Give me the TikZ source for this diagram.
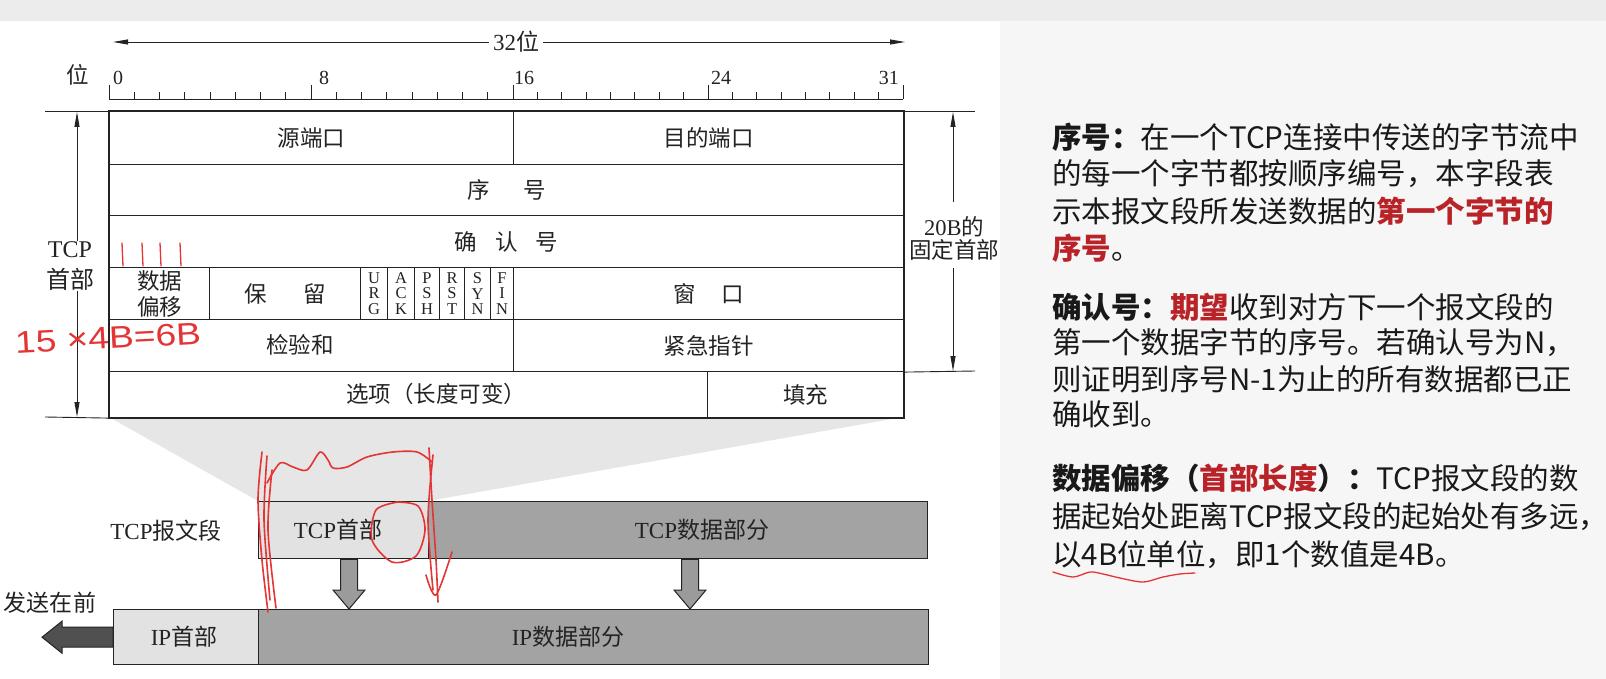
\documentclass[tikz,border=0pt]{standalone}
\usepackage{fontspec}
\setmainfont{Liberation Serif}
\newfontfamily\cjk{Noto Sans CJK SC}
\newfontfamily\handfont{Liberation Sans}
\usetikzlibrary{arrows.meta,calc}
\definecolor{ink}{RGB}{35,35,35}
\definecolor{txtc}{RGB}{25,25,25}
\definecolor{redA}{RGB}{185,35,40}
\definecolor{hand}{RGB}{228,52,52}
\definecolor{bgR}{RGB}{246,246,246}
\definecolor{bgT}{RGB}{236,236,236}
\definecolor{proj}{RGB}{230,230,230}
\definecolor{lightfill}{RGB}{226,226,226}
\definecolor{darkfill}{RGB}{163,163,163}
\definecolor{arrfill}{RGB}{155,155,155}
\definecolor{leftarr}{RGB}{80,80,80}
\newcommand\zh[1]{{\cjk #1}}
\newcommand\rb[1]{{\color{redA}\bfseries #1}}
\tikzset{
  fld/.style={draw=ink, line width=1.1pt, inner sep=0pt, anchor=north west, text=ink, font=\fontsize{22.5}{26}\selectfont},
  lbl/.style={inner sep=0pt, text=ink, font=\fontsize{22.5}{26}\selectfont},
  numlbl/.style={inner sep=0pt, text=ink, font=\fontsize{20}{22}\selectfont},
  flagbox/.style={fld, minimum height=52pt, align=center, font=\fontsize{16.5}{15.3}\selectfont},
  dim/.style={draw=ink, line width=0.9pt},
  dimarrow/.style={dim, -{Triangle[length=15pt,width=5pt]}},
  seg/.style={draw=ink, line width=1.4pt, inner sep=0pt, anchor=north west},
  blockarrow/.style={draw=ink, line width=1pt, fill=arrfill, line join=miter},
  rtxt/.style={anchor=west, inner sep=0pt, text=txtc, font=\cjk\fontsize{29.5}{36}\selectfont},
  handink/.style={draw=hand, line width=1.6pt, line cap=round, line join=round}
}
\begin{document}
\begin{tikzpicture}[x=1pt,y=-1pt]
\useasboundingbox (0,0) rectangle (1606,679);
\fill[bgR] (0,0) rectangle (1606,679);
\fill[bgT] (0,0) rectangle (1606,21);
\fill[white] (0,21) rectangle (1000,679);

% projection wedge
\fill[proj] (109,417) -- (903,417) -- (428,501) -- (258,501) -- cycle;

% 32 bit width arrow
\node[lbl, inner sep=4pt, font=\fontsize{23}{26}\selectfont] (w32) at (516,42) {32\zh{位}};
\coordinate (wl) at (113,42);
\coordinate (wr) at (905,42);
\draw[dimarrow] (w32.west) -- (wl);
\draw[dimarrow] (w32.east) -- (wr);

% ruler
\node[lbl] (wei) at (78,75) {\zh{位}};
\draw[dim] (109,99) -- (903,99);
\foreach \i in {0,...,32}{
  \pgfmathsetmacro\tx{\i<=16 ? 109+\i*25.25 : 513+(\i-16)*24.375}
  \pgfmathsetmacro\th{mod(\i,8)==0 ? 14 : 7}
  \draw[dim] (\tx,99) -- (\tx,99-\th);
}
\node[numlbl, anchor=base west] (n0) at (113,85) {0};
\node[numlbl, anchor=base west] (n8) at (319,85) {8};
\node[numlbl, anchor=base west] (n16) at (514,85) {16};
\node[numlbl, anchor=base west] (n24) at (711,85) {24};
\node[numlbl, anchor=base east] (n31) at (899,85) {31};

% header table
\node[fld, minimum width=404pt, minimum height=53pt] (src) at (109,111) {\zh{源端口}};
\node[fld, minimum width=390pt, minimum height=53pt] (dst) at (513,111) {\zh{目的端口}};
\node[fld, minimum width=794pt, minimum height=51pt] (seq) at (109,164) {\zh{序\hspace{33pt}号}};
\node[fld, minimum width=794pt, minimum height=52pt] (ack) at (109,215) {\zh{确\hspace{18pt}认\hspace{18pt}号}};
\node[fld, minimum width=100pt, minimum height=52pt, align=center] (off) at (109,267) {\zh{数据}\\\zh{偏移}};
\node[fld, minimum width=151pt, minimum height=52pt] (rsv) at (209,267) {\zh{保\hspace{37pt}留}};
\node[flagbox, minimum width=27pt] (fURG) at (360,267) {U\\R\\G};
\node[flagbox, minimum width=27pt] (fACK) at (387,267) {A\\C\\K};
\node[flagbox, minimum width=25pt] (fPSH) at (414,267) {P\\S\\H};
\node[flagbox, minimum width=25pt] (fRST) at (439,267) {R\\S\\T};
\node[flagbox, minimum width=26pt] (fSYN) at (464,267) {S\\Y\\N};
\node[flagbox, minimum width=23pt] (fFIN) at (490,267) {F\\I\\N};
\node[fld, minimum width=390pt, minimum height=52pt] (win) at (513,267) {\zh{窗\hspace{26pt}口}};
\node[fld, minimum width=404pt, minimum height=52pt] (chk) at (109,319) {};
\node[lbl] (chkt) at (300,345) {\zh{检验和}};
\node[fld, minimum width=390pt, minimum height=52pt] (urp) at (513,319) {\zh{紧急指针}};
\node[fld, minimum width=598pt, minimum height=46pt] (opt) at (109,371) {};
\node[lbl] (optt) at (436,394) {\zh{选项（长度可变）}};
\node[fld, minimum width=196pt, minimum height=46pt] (pad) at (707,371) {\zh{填充}};
\draw[ink, line width=2pt] (src.north west) rectangle (pad.south east);

% left dimension
\draw[dim] (45,111) -- (src.north west);
\draw[dim] (45,417) -- (opt.south west);
\coordinate (lt) at (77,112);
\coordinate (lb) at (77,417);
\node[lbl, align=center, font=\fontsize{24}{31}\selectfont] (tcplbl) at (70,266) {TCP\\\zh{首部}};
\draw[dimarrow] (tcplbl.north -| lt) -- (lt);
\draw[dimarrow] (tcplbl.south -| lb) -- (lb);

% right dimension
\draw[dim] (dst.north east) -- (975,111);
\draw[dim] (urp.south east) -- (975,371);
\coordinate (rt) at (953,112);
\coordinate (rb) at (953,371);
\node[lbl, align=center, font=\fontsize{22.5}{23}\selectfont] (fixlbl) at (954,238) {20B\zh{的}\\\zh{固定首部}};
\draw[dimarrow] ($(fixlbl.north -| rt)+(0,-14)$) -- (rt);
\draw[dimarrow] ($(fixlbl.south -| rb)+(0,8)$) -- (rb);

% TCP segment
\node[lbl, font=\fontsize{23}{26}\selectfont] (tcpseg) at (166,531) {TCP\zh{报文段}};
\node[seg, fill=lightfill, minimum width=170pt, minimum height=57pt] (tcphdr) at (258,501) {};
\node[seg, fill=darkfill, minimum width=499pt, minimum height=57pt] (tcpdata) at (428,501) {};
\node[lbl, font=\fontsize{23}{26}\selectfont] (tcphdrt) at (338,530) {TCP\zh{首部}};
\node[lbl, font=\fontsize{23}{26}\selectfont] (tcpdatat) at (702,530) {TCP\zh{数据部分}};

% IP datagram
\node[seg, fill=lightfill, minimum width=145pt, minimum height=55pt] (iphdr) at (113,609) {};
\node[seg, fill=darkfill, minimum width=670pt, minimum height=55pt] (ipdata) at (258,609) {};
\node[lbl, font=\fontsize{23}{26}\selectfont] (iphdrt) at (184,637) {IP\zh{首部}};
\node[lbl, font=\fontsize{23}{26}\selectfont] (ipdatat) at (568,637) {IP\zh{数据部分}};
\node[lbl, font=\fontsize{23}{26}\selectfont] (send) at (50,603) {\zh{发送在前}};

% block arrows down
\coordinate (a1) at ($(tcphdr.south west)+(91,0)$);
\coordinate (a1e) at (a1 |- ipdata.north);
\draw[blockarrow] ($(a1)+(-8.5,0)$) -- ($(a1e)+(-8.5,-19)$) -- ($(a1e)+(-16,-19)$) -- (a1e)
  -- ($(a1e)+(16,-19)$) -- ($(a1e)+(8.5,-19)$) -- ($(a1)+(8.5,0)$) -- cycle;
\coordinate (a2) at ($(tcpdata.south west)+(262,0)$);
\coordinate (a2e) at (a2 |- ipdata.north);
\draw[blockarrow] ($(a2)+(-8.5,0)$) -- ($(a2e)+(-8.5,-19)$) -- ($(a2e)+(-16,-19)$) -- (a2e)
  -- ($(a2e)+(16,-19)$) -- ($(a2e)+(8.5,-19)$) -- ($(a2)+(8.5,0)$) -- cycle;

% left send arrow
\coordinate (tip) at (iphdr.west -| 42,0);
\draw[blockarrow, fill=leftarr] ($(iphdr.west)+(0,-10)$) -- ($(tip)+(20,-10)$) -- ($(tip)+(20,-16)$) -- (tip)
  -- ($(tip)+(20,16)$) -- ($(tip)+(20,10)$) -- ($(iphdr.west)+(0,10)$) -- cycle;

% right explanatory text
\node[rtxt] (p1a) at (1052,137) {\textbf{序号：}在一个TCP连接中传送的字节流中};
\node[rtxt] (p1b) at (1052,174) {的每一个字节都按顺序编号，本字段表};
\node[rtxt] (p1c) at (1052,211) {示本报文段所发送数据的\rb{第一个字节的}};
\node[rtxt] (p1d) at (1052,248) {\rb{序号}。};
\node[rtxt] (p2a) at (1052,307) {\textbf{确认号：}\rb{期望}收到对方下一个报文段的};
\node[rtxt] (p2b) at (1052,343) {第一个数据字节的序号。若确认号为N，};
\node[rtxt] (p2c) at (1052,379) {则证明到序号N-1为止的所有数据都已正};
\node[rtxt] (p2d) at (1052,414) {确收到。};
\node[rtxt] (p3a) at (1052,478) {\textbf{数据偏移（}\rb{首部长度}\textbf{）：}TCP报文段的数};
\node[rtxt] (p3b) at (1052,517) {据起始处距离TCP报文段的起始处有多远，};
\node[rtxt] (p3c) at (1052,555) {以4B位单位，即1个数值是4B。};

% handwritten annotations
\foreach \hx in {122,142,160,180}{
  \draw[handink, line width=1.3pt] (\hx,243) -- (\hx+1,266);
}
\node[inner sep=0pt, text=hand, font=\handfont\fontsize{31}{33}\selectfont, rotate=3, xscale=1.2] (hnote) at (108,338) {15 ×4B=6B};
\draw[handink] plot[smooth] coordinates {(262,452) (258,500) (262,560) (268,612)};
\draw[handink] plot[smooth] coordinates {(267,456) (264,520) (270,600)};
\draw[handink] plot[smooth] coordinates {(272,470) (268,530) (276,608)};
\draw[handink] plot[smooth] coordinates {(267,483) (280,463) (293,467) (307,470) (320,452) (328,460) (333,468) (347,467) (367,457) (393,452) (417,452) (432,462)};
\draw[handink] plot[smooth] coordinates {(429,448) (432,500) (436,560) (438,602)};
\draw[handink] plot[smooth] coordinates {(433,455) (428,520) (433,590)};
\draw[handink] plot[smooth] coordinates {(426,575) (436,595) (452,552)};
\draw[handink] plot[smooth] coordinates {(398,502) (376,510) (372,540) (392,562) (416,556) (425,530) (418,506) (396,502)};
\draw[handink, line width=1.3pt] plot[smooth] coordinates {(1053,572) (1073,577) (1090,572) (1103,574) (1120,578) (1143,582) (1163,577) (1180,574) (1195,573)};
\end{tikzpicture}
\end{document}
